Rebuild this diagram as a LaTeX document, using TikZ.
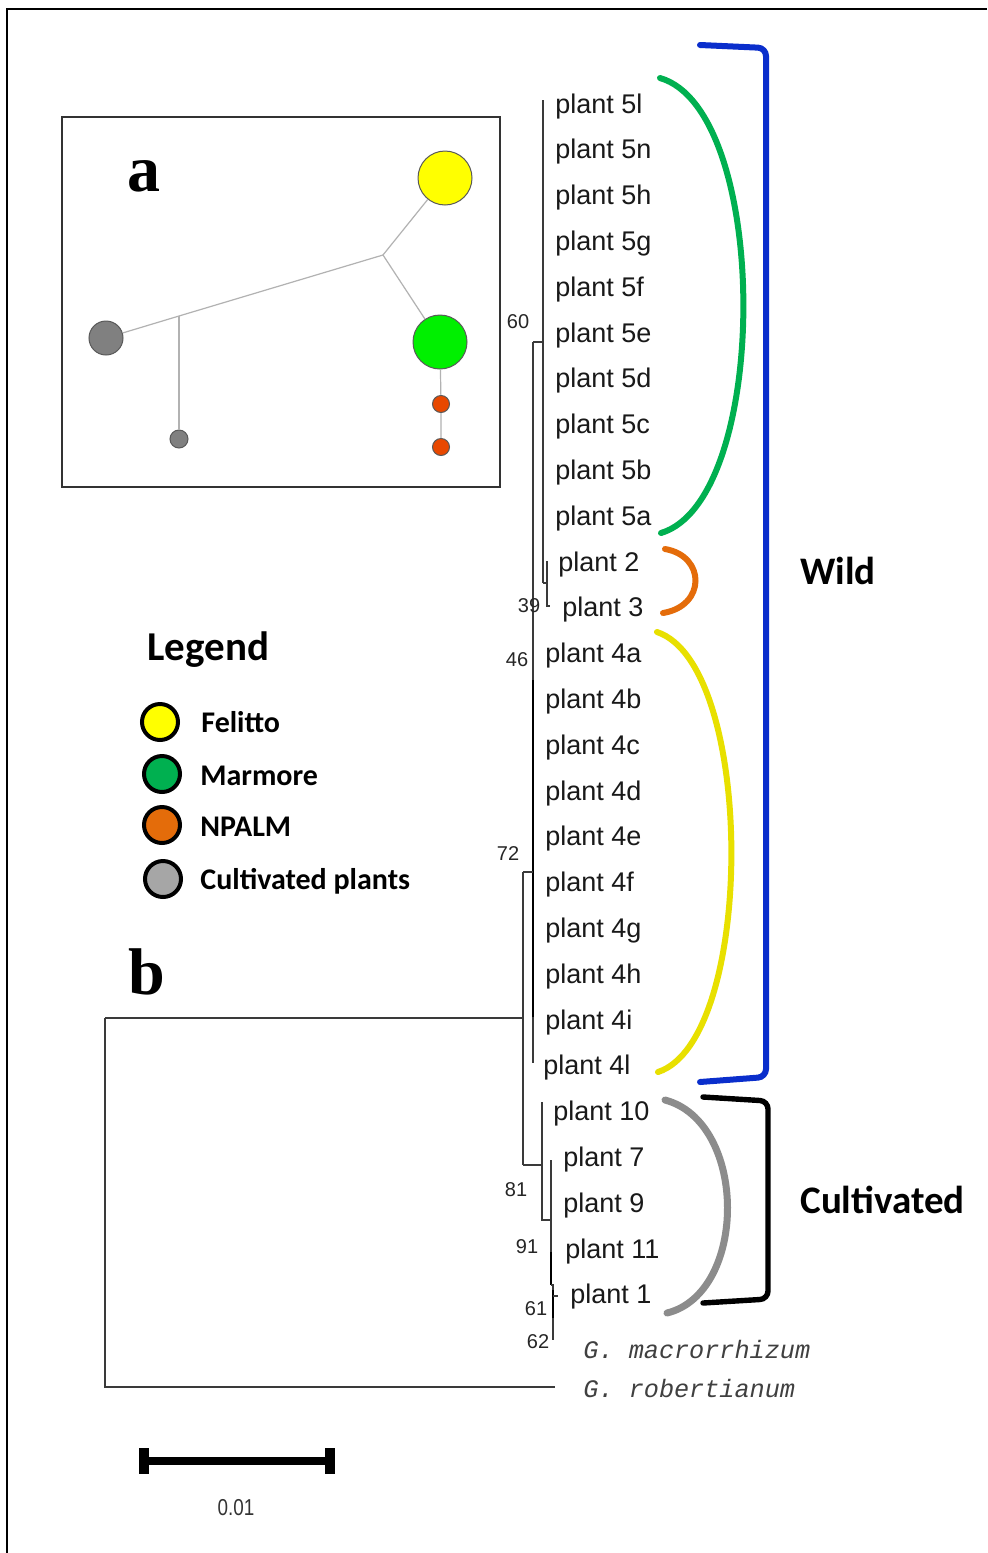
\documentclass[tikz,border=0pt]{standalone}
\usepackage{fontspec}
\setmainfont{Liberation Sans}
\newfontfamily\calf{Carlito}
\newfontfamily\timesf{Liberation Serif}
\newfontfamily\monof{Liberation Mono}
\definecolor{netyellow}{HTML}{FFFF00}
\definecolor{netgreen}{HTML}{00F000}
\definecolor{netgray}{HTML}{808080}
\definecolor{netorange}{HTML}{E84800}
\definecolor{leggreen}{HTML}{00B050}
\definecolor{legorange}{HTML}{E46C0A}
\definecolor{leggray}{HTML}{A6A6A6}
\definecolor{arcyellow}{HTML}{E8E000}
\definecolor{arcgray}{HTML}{8C8C8C}
\definecolor{wildblue}{HTML}{0A2ECC}
\definecolor{treeline}{HTML}{3A3A3A}
\begin{document}
\begin{tikzpicture}[x=0.5pt,y=-0.5pt,
  leaf/.style={anchor=base west, inner sep=0, font=\fontsize{13.5}{14}\selectfont, text=black!90},
  boot/.style={inner sep=0, font=\fontsize{10}{10}\selectfont, text=black!85},
  branch/.style={line width=0.75pt, draw=treeline},
  thickbranch/.style={line width=1.4pt, draw=black},
  netline/.style={line width=0.6pt, draw=black!30},
  netnode/.style={circle, inner sep=0, draw=black!65, line width=0.5pt},
  legnode/.style={circle, inner sep=0, draw=black, line width=2pt, minimum size=18pt},
  legtext/.style={anchor=base west, inner sep=0, font=\calf\bfseries\fontsize{15}{16}\selectfont},
  grouptext/.style={anchor=base west, inner sep=0, font=\calf\bfseries\fontsize{19.5}{20}\selectfont},
  panel/.style={inner sep=0, font=\timesf\bfseries\fontsize{33}{33}\selectfont},
  arc/.style={line width=3pt, line cap=round},
  bracket/.style={line width=3pt, rounded corners=4pt, line cap=round}
]
\useasboundingbox (0,0) rectangle (987,1553);
\fill[white] (0,0) rectangle (987,1553);
% outer frame
\draw[line width=1.2pt] (7,1553) -- (7,9) -- (987,9);

% ---- inset a: haplotype network ----
\draw[line width=0.8pt, draw=black!80] (62,117) rectangle (500,487);
\node[panel] (lblA) at (144,176) {a};
\coordinate (j1) at (383,255);
\coordinate (j2) at (179,316);
\node[netnode, fill=netyellow, minimum size=27pt] (nY) at (445,178) {};
\node[netnode, fill=netgreen, minimum size=27pt] (nG) at (440,342) {};
\node[netnode, fill=netgray, minimum size=17pt] (nC) at (106,338) {};
\node[netnode, fill=netgray, minimum size=9pt] (nc) at (179,439) {};
\node[netnode, fill=netorange, minimum size=8.5pt] (nO1) at (441,404) {};
\node[netnode, fill=netorange, minimum size=8.5pt] (nO2) at (441,447) {};
\draw[netline] (nY) -- (j1) -- (nG);
\draw[netline] (j1) -- (j2) -- (nC);
\draw[netline] (j2) -- (nc);
\draw[netline] (nG) -- (nO1) -- (nO2);

% ---- legend ----
\node[anchor=base west, inner sep=0, font=\calf\bfseries\fontsize{20.5}{22}\selectfont] (legT) at (147,660) {Legend};
\node[legnode, fill=netyellow] (lc1) at (160,722) {};
\node[legnode, fill=leggreen] (lc2) at (162,774) {};
\node[legnode, fill=legorange] (lc3) at (162,825) {};
\node[legnode, fill=leggray] (lc4) at (163,879) {};
\node[legtext] (lt1) at (201,732) {Felitto};
\node[legtext] (lt2) at (200,785) {Marmore};
\node[legtext] (lt3) at (200,836) {NPALM};
\node[legtext] (lt4) at (200,889) {Cultivated plants};

% ---- panel b: tree ----
\node[panel] (lblB) at (147,972) {b};
\foreach \t/\x [count=\i from 0] in {5l/555,5n/555,5h/555,5g/555,5f/555,5e/555,5d/555,5c/555,5b/555,5a/555,2/558,3/562,4a/545,4b/545,4c/545,4d/545,4e/545,4f/545,4g/545,4h/545,4i/545,4l/543,10/553,7/563,9/563,11/565,1/570}
  \node[leaf] (leaf\i) at (\x,{113+45.8*\i}) {plant \t};
\node[leaf, font=\monof\itshape\fontsize{12.6}{13}\selectfont, text=black!75] (gmac) at (583,1358) {G. macrorrhizum};
\node[leaf, font=\monof\itshape\fontsize{12.6}{13}\selectfont, text=black!75] (grob) at (583,1397) {G. robertianum};

% branches
\draw[branch] (543,100) -- (543,583);
\draw[branch] (533,342) -- (543,342);
\draw[branch] (543,583) -- (547,583);
\draw[branch] (547,561) -- (547,606) -- (550,606);
\draw[branch] (533,342) -- (533,1063);
\draw[thickbranch] (533,680) -- (533,1017);
\draw[branch] (523,872) -- (533,872);
\draw[branch] (523,872) -- (523,1165);
\draw[branch] (105,1018) -- (523,1018);
\draw[branch] (105,1018) -- (105,1387) -- (555,1387);
\draw[branch] (523,1165) -- (542,1165);
\draw[branch] (542,1102) -- (542,1220) -- (551,1220);
\draw[branch] (551,1160) -- (551,1285);
\draw[thickbranch] (551,1252) -- (551,1285);
\draw[branch] (551,1285) -- (553,1285) -- (553,1340);
\draw[thickbranch] (553,1290) -- (553,1318);
\draw[branch] (553,1296) -- (558,1296);

% bootstrap values
\node[boot] (b60) at (518,322) {60};
\node[boot] (b39) at (529,606) {39};
\node[boot] (b46) at (517,660) {46};
\node[boot] (b72) at (508,854) {72};
\node[boot] (b81) at (516,1190) {81};
\node[boot] (b91) at (527,1247) {91};
\node[boot] (b61) at (536,1309) {61};
\node[boot] (b62) at (538,1342) {62};

% group arcs
\draw[arc, draw=leggreen] (660,78) .. controls (771,110) and (771,500) .. (661,533);
\draw[arc, draw=legorange] (665,549) .. controls (706,556) and (706,606) .. (663,613);
\draw[arc, draw=arcyellow] (657,632) .. controls (756,665) and (756,1040) .. (658,1072);
\draw[arc, line width=3.5pt, draw=arcgray] (665,1100) .. controls (748,1122) and (748,1293) .. (667,1313);

% brackets
\draw[bracket, draw=wildblue] (700,45) -- (766,48) -- (766,1077) -- (700,1082);
\draw[bracket, line width=2.7pt, draw=black] (703,1097) -- (768,1101) -- (768,1299) -- (703,1303);
\node[grouptext] (wild) at (800,584) {Wild};
\node[grouptext] (cult) at (800,1213) {Cultivated};

% scale bar
\coordinate (sbL) at (142,1461);
\coordinate (sbR) at (332,1461);
\draw[line width=4pt] (sbL) -- (sbR);
\draw[line width=5pt] (144,1448) -- (144,1474);
\draw[line width=5pt] (330,1448) -- (330,1474);
\node[inner sep=0, text=black!80, font=\fontsize{11.5}{12}\selectfont, xscale=0.82] (sblab) at (236,1508) {0.01};
\end{tikzpicture}
\end{document}
